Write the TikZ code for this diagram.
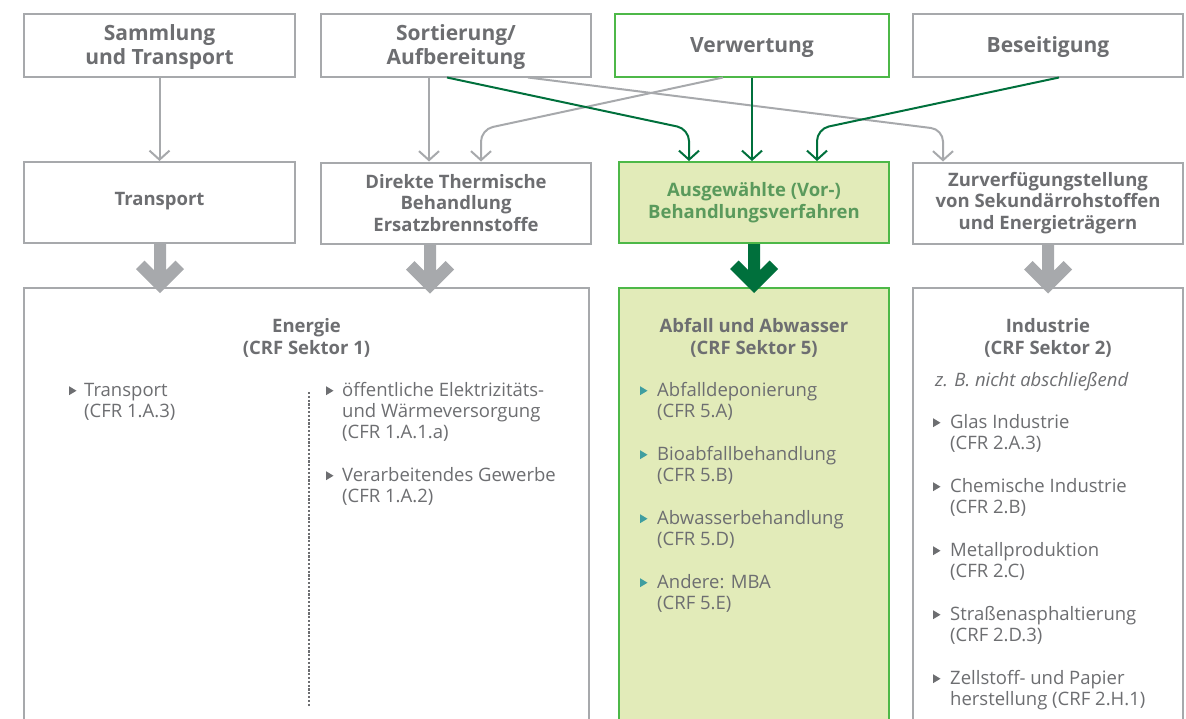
\documentclass[tikz,border=0pt]{standalone}
\usepackage{fontspec}
\setmainfont{Open Sans}
\usetikzlibrary{arrows.meta,calc}
\definecolor{gtext}{HTML}{6D6E71}
\definecolor{gline}{HTML}{A7A9AC}
\definecolor{gborder}{HTML}{4DB848}
\definecolor{gfill}{HTML}{E2EBB9}
\definecolor{dgreen}{HTML}{00703C}
\definecolor{gtitle}{HTML}{5A9A5C}
\definecolor{tealbul}{HTML}{3F9EA0}
\newcommand\mybul[3]{\fill[#2] ($(#1.north west)+(#3,4.2)$) -- ++(0,9) -- ++(7.5,-4.5) -- cycle;}
\newcommand\thickarr[3]{\fill[#3] ($(#1.south)+(#2,0)$) ++(-6,0) -- ++(0,26) -- ++(-9.5,-9.5) -- ++(-8.5,8.5) -- ++(24,24) -- ++(24,-24) -- ++(-8.5,-8.5) -- ++(-9.5,9.5) -- ++(0,-26) -- cycle;}
\begin{document}
\begin{tikzpicture}[x=1pt,y=-1pt,
  topbox/.style={draw=gline, line width=2pt, fill=white, minimum height=63, inner sep=0,
    text=gtext, font=\bfseries\fontsize{21}{24}\selectfont, align=center, text depth=0pt},
  midbox/.style={draw=gline, line width=2pt, fill=white, minimum height=81, inner sep=0,
    text=gtext, font=\bfseries\fontsize{18.5}{21.5}\selectfont, align=center},
  bigbox/.style={draw=gline, line width=2pt, fill=white, minimum height=450, inner sep=0, anchor=north},
  head/.style={text=gtext, font=\bfseries\fontsize{18.5}{22}\selectfont, align=center, inner sep=0},
  item/.style={text=gtext, font=\fontsize{18.5}{21}\selectfont, align=left, inner sep=0, anchor=north west},
  thinarr/.style={draw=gline, line width=2pt, -{Straight Barb[length=9pt,width=20pt]}},
  greenarr/.style={draw=dgreen, line width=2pt, -{Straight Barb[length=9pt,width=20pt]}},
]
\useasboundingbox (0,0) rectangle (1186,718);
% top row
\node[topbox, minimum width=271] (b1) at (159.5,45) {Sammlung\\und Transport};
\node[topbox, minimum width=270] (b2) at (456,45) {Sortierung/\\Aufbereitung};
\node[topbox, draw=gborder, minimum width=274] (b3) at (752,45) {Verwertung};
\node[topbox, minimum width=270] (b4) at (1048,45) {Beseitigung};
% middle row
\node[midbox, minimum width=271] (t1) at (159.5,202.5) {\raisebox{7pt}{Transport}};
\node[midbox, minimum width=270] (t2) at (456,203) {Direkte Thermische\\Behandlung\\Ersatzbrennstoffe};
\node[midbox, draw=gborder, fill=gfill, text=gtitle, minimum width=270] (t3) at (754,202.5) {Ausgewählte (Vor-)\\Behandlungsverfahren};
\node[midbox, minimum width=270] (t4) at (1048,203) {Zurverfügungstellung\\von Sekundärrohstoffen\\und Energieträgern};
% bottom row
\node[bigbox, minimum width=565] (e) at (306.5,287) {};
\node[bigbox, draw=gborder, fill=gfill, minimum width=270] (a) at (754,287) {};
\node[bigbox, minimum width=270] (i) at (1048,287) {};
% connectors
\draw[thinarr] (b1.south) -- (t1.north);
\draw[thinarr] ([xshift=-27]b2.south) -- ([xshift=-27]t2.north);
\draw[thinarr, rounded corners=12] ([xshift=-29]b3.south) -- ($([xshift=25]t2.north)+(0,-32)$) -- ([xshift=25]t2.north);
\draw[thinarr, rounded corners=12] ([xshift=72]b2.south) -- ($([xshift=-105]t4.north)+(0,-32)$) -- ([xshift=-105]t4.north);
\draw[greenarr, rounded corners=12] ([xshift=-9]b2.south) -- ($([xshift=-65]t3.north)+(0,-32)$) -- ([xshift=-65]t3.north);
\draw[greenarr] (b3.south) -- (b3.south |- t3.north);
\draw[greenarr, rounded corners=12] ([xshift=11]b4.south) -- ($([xshift=63]t3.north)+(0,-32)$) -- ([xshift=63]t3.north);
% thick arrows
\thickarr{t1}{0.5}{gline}
\thickarr{t2}{-26}{gline}
\thickarr{t3}{0}{dgreen}
\thickarr{t4}{0}{gline}
% Energie
\node[head] (eh) at (306.5,338) {Energie\\(CRF Sektor 1)};
\node[item] (e1) at (84,382) {\strut Transport\\(CFR 1.A.3)};
\node[item] (e2) at (342,382) {\strut öffentliche Elektrizitäts-\\und Wärmeversorgung\\(CFR 1.A.1.a)};
\node[item] (e3) at (342,467) {\strut Verarbeitendes Gewerbe\\(CFR 1.A.2)};
\mybul{e1}{gtext}{-15}
\mybul{e2}{gtext}{-16}
\mybul{e3}{gtext}{-16}
\draw[gtext, line width=1.2pt, dash pattern=on 2.2pt off 1.6pt] ($(e.north west)+(286,105)$) -- ($(e.north west)+(286,419)$);
% Abfall
\node[head] (ah) at (754,338) {Abfall und Abwasser\\(CRF Sektor 5)};
\node[item] (a1) at (657,382) {\strut Abfalldeponierung\\(CFR 5.A)};
\node[item] (a2) at (657,446) {\strut Bioabfallbehandlung\\(CFR 5.B)};
\node[item] (a3) at (657,510) {\strut Abwasserbehandlung\\(CFR 5.D)};
\node[item] (a4) at (657,574) {\strut Andere: MBA\\(CRF 5.E)};
\mybul{a1}{tealbul}{-17}
\mybul{a2}{tealbul}{-17}
\mybul{a3}{tealbul}{-17}
\mybul{a4}{tealbul}{-17}
% Industrie
\node[head] (ih) at (1048,338) {Industrie\\(CRF Sektor 2)};
\node[text=gtext, font=\itshape\fontsize{18.5}{21}\selectfont, inner sep=0, anchor=base west] (iz) at (935,386) {z. B. nicht abschließend};
\node[item] (i1) at (950,414) {\strut Glas Industrie\\(CFR 2.A.3)};
\node[item] (i2) at (950,478) {\strut Chemische Industrie\\(CFR 2.B)};
\node[item] (i3) at (950,542) {\strut Metallproduktion\\(CFR 2.C)};
\node[item] (i4) at (950,606) {\strut Straßenasphaltierung\\(CRF 2.D.3)};
\node[item] (i5) at (950,670) {\strut Zellstoff- und Papier\\herstellung (CRF 2.H.1)};
\mybul{i1}{gtext}{-17}
\mybul{i2}{gtext}{-17}
\mybul{i3}{gtext}{-17}
\mybul{i4}{gtext}{-17}
\mybul{i5}{gtext}{-17}
\end{tikzpicture}
\end{document}
